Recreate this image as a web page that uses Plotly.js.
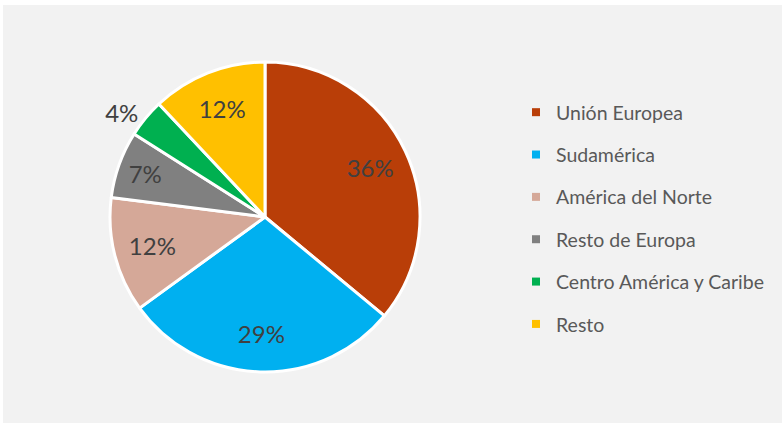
<!DOCTYPE html>
<html><head><meta charset="utf-8">
<script src="https://cdn.plot.ly/plotly-3.0.1.min.js"></script>
<style>html,body{margin:0;padding:0;background:#fff;}#chart{width:782px;height:423px;}</style>
</head><body><div id="chart"></div>
<script>
const categories = ["Unión Europea","Sudamérica","América del Norte","Resto de Europa","Centro América y Caribe","Resto"];
const values = [36, 29, 12, 7, 4, 12];
const colors = ["#B93E08","#00B0F0","#D5A898","#808080","#00B050","#FFC000"];
const textPositions = ["inside","inside","inside","inside","outside","inside"];

const W = 782, H = 423;
const dom = {x: [110/W, 420/W], y: [51/H, 361/H]};
const fontFam = "Lato, 'Open Sans', sans-serif";
const traces = [{
  type: "pie",
  labels: categories,
  values: values,
  sort: false,
  direction: "clockwise",
  rotation: 0,
  marker: {colors: colors, line: {color: "#ffffff", width: 3}},
  textinfo: "none",
  domain: dom,
  showlegend: false,
  hoverinfo: "label+percent"
}, {
  type: "pie",
  labels: categories,
  values: values,
  sort: false,
  direction: "clockwise",
  rotation: 0,
  hole: 0.5,
  marker: {colors: categories.map(() => "rgba(0,0,0,0)"), line: {width: 0}},
  textinfo: "percent",
  textposition: textPositions,
  insidetextorientation: "horizontal",
  textfont: {family: fontFam, size: 24, color: "#404040"},
  outsidetextfont: {family: fontFam, size: 24, color: "#404040"},
  domain: dom,
  showlegend: false,
  hoverinfo: "skip"
}];
categories.forEach((c, i) => {
  traces.push({
    type: "scatter", mode: "markers", x: [null], y: [null], name: c,
    legendgroup: "g" + i,
    marker: {symbol: "square", size: 8, color: colors[i]},
    hoverinfo: "skip"
  });
});

const layout = {
  width: W, height: H,
  margin: {l: 0, r: 0, t: 0, b: 0},
  paper_bgcolor: "#ffffff",
  plot_bgcolor: "rgba(0,0,0,0)",
  xaxis: {visible: false, domain: [0, 1]},
  yaxis: {visible: false, domain: [0, 1]},
  shapes: [{type: "rect", xref: "paper", yref: "paper", x0: 3/W, x1: 1, y0: 0, y1: (H-5)/H,
            fillcolor: "#F2F2F2", line: {width: 0}, layer: "below"}],
  showlegend: true,
  legend: {
    x: 516/W, y: (H-93)/H, xanchor: "left", yanchor: "top",
    bgcolor: "rgba(0,0,0,0)",
    font: {family: fontFam, size: 19.5, color: "#595959"},
    tracegroupgap: 14,
    itemwidth: 30
  }
};
Plotly.newPlot("chart", traces, layout, {displayModeBar: false, staticPlot: true});
</script></body></html>
